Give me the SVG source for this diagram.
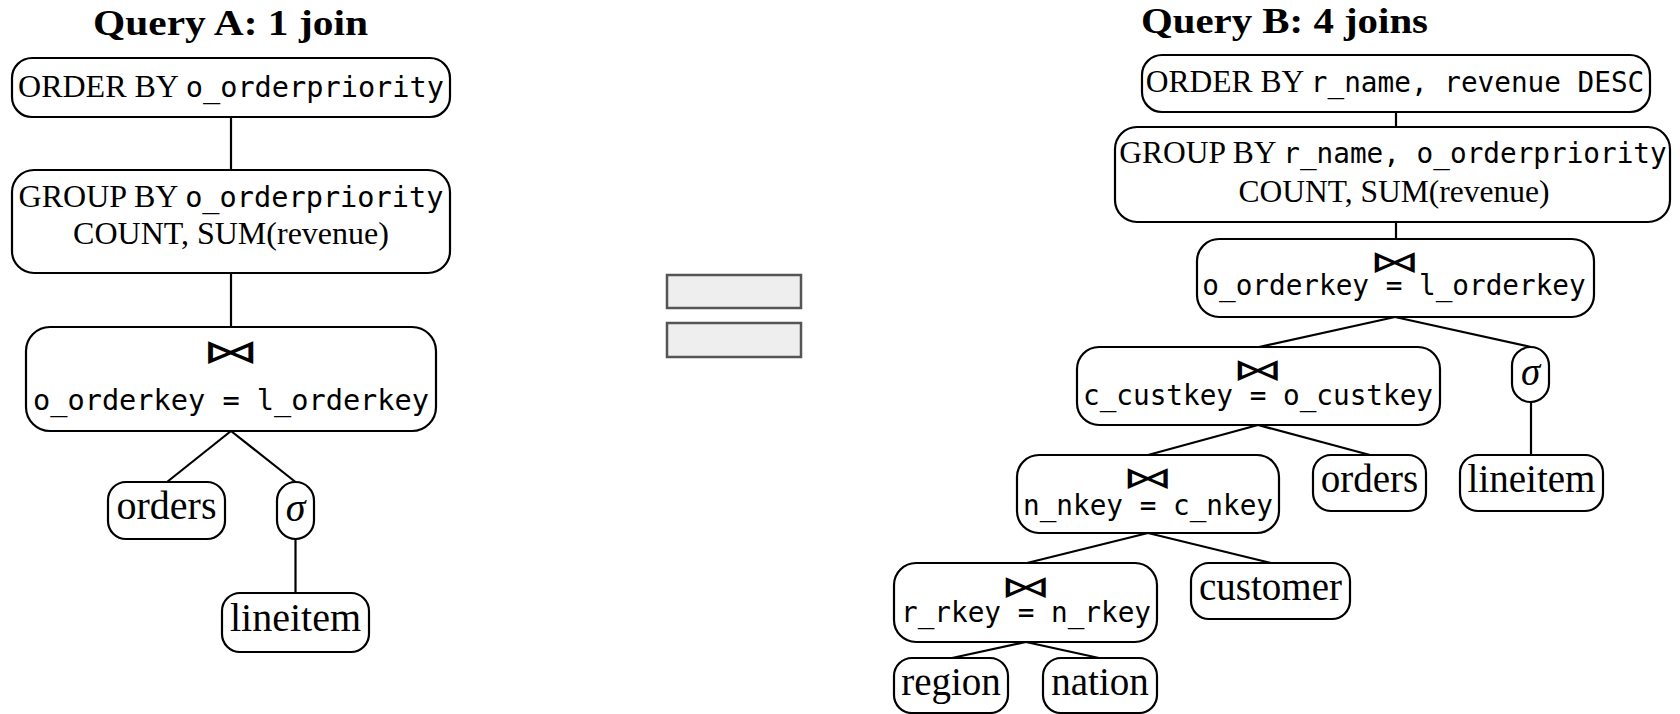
<svg xmlns="http://www.w3.org/2000/svg" width="1680" height="714" viewBox="0 0 1680 714">
<style>
.box{fill:#fff;stroke:#000;stroke-width:2.2}
.edge{stroke:#000;stroke-width:2.2;fill:none}
.eq{fill:#eeeeee;stroke:#555;stroke-width:2.5}
.title{font-family:"Liberation Serif",serif;font-weight:bold;font-size:36px;fill:#000}
.s{font-family:"Liberation Serif",serif;fill:#000}
.m{font-family:"DejaVu Sans Mono",monospace;fill:#000}
.bt{font-family:"DejaVu Sans",sans-serif;fill:#000;text-anchor:middle}
.sig{font-family:"Liberation Serif",serif;font-style:italic;fill:#000;text-anchor:middle}
.c{text-anchor:middle}
.sA{font-size:32px}.mA{font-size:28.6px}.leafA{font-size:40px}
.sB{font-size:31.5px}.mB{font-size:27.7px}.leafB{font-size:39px}
.btA{font-size:33px}.btB{font-size:30px}
</style>

<text class="title" x="93" y="35" textLength="275" lengthAdjust="spacingAndGlyphs">Query A: 1 join</text>
<text class="title" x="1141" y="33" textLength="287" lengthAdjust="spacingAndGlyphs">Query B: 4 joins</text>

<g id="connectors">
<line class="edge" x1="231" y1="117" x2="231" y2="170"/>
<line class="edge" x1="231" y1="273" x2="231" y2="327"/>
<line class="edge" x1="231" y1="431" x2="167" y2="482"/>
<line class="edge" x1="231" y1="431" x2="295.5" y2="482"/>
<line class="edge" x1="295.5" y1="539" x2="295.5" y2="593"/>
<line class="edge" x1="1396" y1="112" x2="1396" y2="127"/>
<line class="edge" x1="1396" y1="222" x2="1396" y2="239"/>
<line class="edge" x1="1395" y1="317" x2="1259" y2="347"/>
<line class="edge" x1="1395" y1="317" x2="1531" y2="347"/>
<line class="edge" x1="1531" y1="402" x2="1531" y2="455"/>
<line class="edge" x1="1258" y1="425" x2="1370" y2="455"/>
<line class="edge" x1="1258" y1="425" x2="1148" y2="455"/>
<line class="edge" x1="1148" y1="533" x2="1271" y2="563"/>
<line class="edge" x1="1148" y1="533" x2="1027" y2="563"/>
<line class="edge" x1="1026" y1="642" x2="952" y2="658"/>
<line class="edge" x1="1026" y1="642" x2="1099" y2="658"/>
</g>

<g id="a-order">
<rect class="box" x="12" y="58" width="438" height="59" rx="20"/>
<text class="c" x="231" y="97"><tspan class="s sA">ORDER BY </tspan><tspan class="m mA">o_orderpriority</tspan></text>
</g>
<g id="a-group">
<rect class="box" x="12" y="170" width="438" height="103" rx="22"/>
<text class="c" x="231" y="207"><tspan class="s sA">GROUP BY </tspan><tspan class="m mA">o_orderpriority</tspan></text>
<text class="s sA c" x="231" y="244">COUNT, SUM(revenue)</text>
</g>
<g id="a-join">
<rect class="box" x="26" y="327" width="410" height="104" rx="24"/>
<text class="bt btA" transform="translate(231,363) scale(1.75,1)">⋈</text>
<text class="m mA c" x="231" y="410">o_orderkey = l_orderkey</text>
</g>
<g id="a-orders">
<rect class="box" x="108" y="482" width="117" height="57" rx="18"/>
<text class="s leafA c" x="166.5" y="519">orders</text>
</g>
<g id="a-sigma">
<rect class="box" x="277" y="482" width="37" height="57" rx="18.5"/>
<text class="sig leafA" x="295.5" y="521">σ</text>
</g>
<g id="a-lineitem">
<rect class="box" x="222" y="593" width="147" height="59" rx="18"/>
<text class="s leafA c" x="295.5" y="631">lineitem</text>
</g>

<g id="equals">
<rect class="eq" x="667" y="275" width="134" height="33"/>
<rect class="eq" x="667" y="323" width="134" height="34"/>
</g>

<g id="b-order">
<rect class="box" x="1142" y="55" width="508" height="57" rx="20"/>
<text class="c" x="1395" y="92"><tspan class="s sB">ORDER BY </tspan><tspan class="m mB">r_name, revenue DESC</tspan></text>
</g>
<g id="b-group">
<rect class="box" x="1115" y="127" width="555" height="95" rx="22"/>
<text class="c" x="1393" y="163"><tspan class="s sB">GROUP BY </tspan><tspan class="m mB">r_name, o_orderpriority</tspan></text>
<text class="s sB c" x="1394" y="202">COUNT, SUM(revenue)</text>
</g>
<g id="b-join1">
<rect class="box" x="1197" y="239" width="397" height="78" rx="22"/>
<text class="bt btB" transform="translate(1395,272) scale(1.7,1)">⋈</text>
<text class="m mB c" x="1394" y="295">o_orderkey = l_orderkey</text>
</g>
<g id="b-join2">
<rect class="box" x="1077" y="347" width="363" height="78" rx="22"/>
<text class="bt btB" transform="translate(1258,380) scale(1.7,1)">⋈</text>
<text class="m mB c" x="1258" y="405">c_custkey = o_custkey</text>
</g>
<g id="b-sigma">
<rect class="box" x="1512" y="347" width="37" height="55" rx="18.5"/>
<text class="sig leafB" x="1530.5" y="385">σ</text>
</g>
<g id="b-orders">
<rect class="box" x="1313" y="455" width="113" height="56" rx="18"/>
<text class="s leafB c" x="1369.5" y="492">orders</text>
</g>
<g id="b-lineitem">
<rect class="box" x="1460" y="455" width="143" height="56" rx="18"/>
<text class="s leafB c" x="1531.5" y="492">lineitem</text>
</g>
<g id="b-join3">
<rect class="box" x="1017" y="455" width="262" height="78" rx="22"/>
<text class="bt btB" transform="translate(1148,488) scale(1.7,1)">⋈</text>
<text class="m mB c" x="1148" y="515">n_nkey = c_nkey</text>
</g>
<g id="b-customer">
<rect class="box" x="1191" y="563" width="159" height="56" rx="18"/>
<text class="s leafB c" x="1270.5" y="600">customer</text>
</g>
<g id="b-join4">
<rect class="box" x="894" y="563" width="263" height="79" rx="22"/>
<text class="bt btB" transform="translate(1026,597) scale(1.7,1)">⋈</text>
<text class="m mB c" x="1026" y="622">r_rkey = n_rkey</text>
</g>
<g id="b-region">
<rect class="box" x="894" y="658" width="114" height="55" rx="18"/>
<text class="s leafB c" x="951" y="695">region</text>
</g>
<g id="b-nation">
<rect class="box" x="1043" y="658" width="114" height="55" rx="18"/>
<text class="s leafB c" x="1100" y="695">nation</text>
</g>
</svg>
